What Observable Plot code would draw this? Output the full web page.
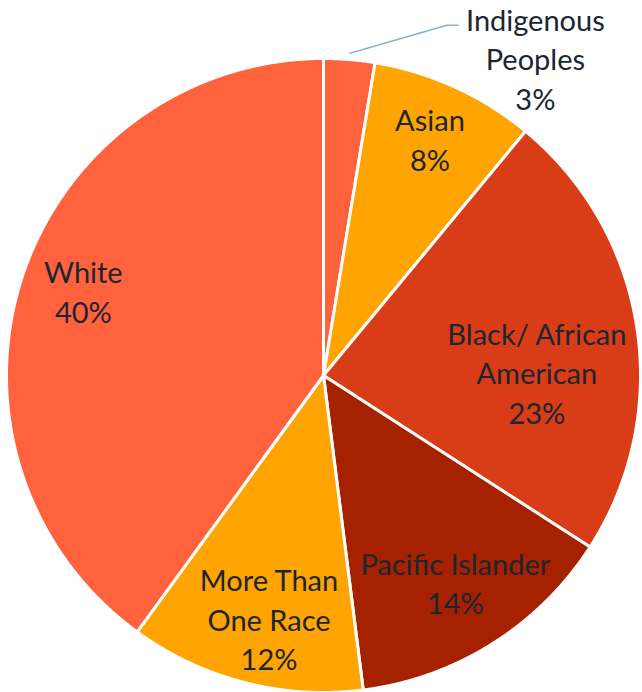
<!DOCTYPE html>
<html>
<head>
<meta charset="utf-8">
<script src="https://cdn.jsdelivr.net/npm/d3@7"></script>
<script src="https://cdn.jsdelivr.net/npm/@observablehq/plot@0.6"></script>
<style>
  html, body { margin: 0; padding: 0; background: #fff; }
  #chart svg { display: block; overflow: visible; }
</style>
</head>
<body>
<div id="chart"></div>
<script>
// ---- data ----
const categories = ["Indigenous Peoples", "Asian", "Black/ African American", "Pacific Islander", "More Than One Race", "White"];
const shares = [2.6, 8.4, 23.1, 13.9, 12.0, 40.0];
const labelLines = ["Indigenous\nPeoples", "Asian", "Black/ African\nAmerican", "Pacific Islander", "More Than\nOne Race", "White"];
const colors = ["#FF623D", "#FFA400", "#D83D17", "#A52100", "#FFA400", "#FF623D"];

// ---- layout (styling) ----
const W = 642, H = 692;
const R = 317;                      // pixel radius
const labelRadius = [1.0, 0.78, 0.78, 0.78, 0.78, 0.78];
const labelNudge = [[186, -2], [4, -12], [-31, 34], [0, -3], [7, 3], [-5, -9]]; // px
const leaderElbow = [[97, -28], [108, -28]]; // px from leader start

const arcs = d3.pie().sort(null).value(d => d)(shares);

// slice polygons
const slicePts = [];
arcs.forEach((a, i) => {
  const name = categories[i];
  slicePts.push({name, x: 0, y: 0});
  const n = Math.max(2, Math.ceil((a.endAngle - a.startAngle) / (Math.PI / 720)));
  for (let k = 0; k <= n; k++) {
    const t = a.startAngle + (a.endAngle - a.startAngle) * k / n;
    slicePts.push({name, x: Math.sin(t), y: Math.cos(t)});
  }
  slicePts.push({name, x: 0, y: 0});
});

// labels
const labels = arcs.map((a, i) => {
  const m = (a.startAngle + a.endAngle) / 2;
  const r = labelRadius[i];
  return {
    x: r * Math.sin(m) + labelNudge[i][0] / R,
    y: r * Math.cos(m) - labelNudge[i][1] / R,
    text: labelLines[i] + "\n" + Math.round(shares[i]) + "%"
  };
});

// leader line for the first (outside) label
const m0 = (arcs[0].startAngle + arcs[0].endAngle) / 2;
const ls = {x: 1.02 * Math.sin(m0), y: 1.02 * Math.cos(m0)};
const leader = [ls, ...leaderElbow.map(([dx, dy]) => ({x: ls.x + dx / R, y: ls.y - dy / R}))];

const plot = Plot.plot({
  width: W,
  height: H,
  margin: 0,
  x: {domain: [-1, 1], range: [323 - R, 323 + R], axis: null},
  y: {domain: [-1, 1], range: [375 + R, 375 - R], axis: null},
  color: {domain: categories, range: colors},
  style: {fontFamily: "Lato, 'Open Sans', sans-serif", background: "#fff"},
  marks: [
    Plot.line(slicePts, {x: "x", y: "y", z: "name", fill: "name", stroke: "#fff", strokeWidth: 3, strokeLinejoin: "round", curve: "linear"}),
    Plot.line(leader, {x: "x", y: "y", stroke: "#8EAFCB", strokeWidth: 1.5}),
    Plot.text(labels, {x: "x", y: "y", text: "text", fontSize: 29, lineHeight: 1.37, fill: "#1c2530", textAnchor: "middle", lineAnchor: "middle"})
  ]
});
document.getElementById("chart").appendChild(plot);
</script>
</body>
</html>
